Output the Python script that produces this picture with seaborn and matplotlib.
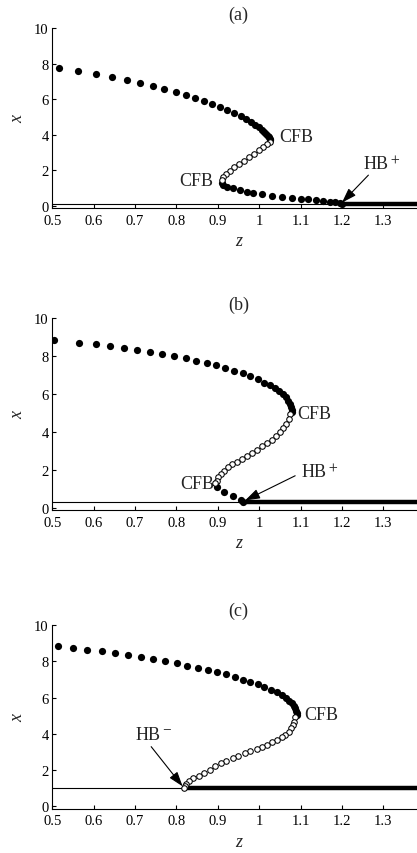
import numpy as np
import pandas as pd
import matplotlib
matplotlib.use("Agg")
import matplotlib.pyplot as plt
import seaborn as sns

# ---------------------------------------------------------------
# Bifurcation diagrams: steady-state x versus parameter z
# ---------------------------------------------------------------

# Panel (a)
a_stable_hi_z = [0.517, 0.563, 0.606, 0.644, 0.680, 0.713, 0.743, 0.771, 0.798, 0.822,
                 0.844, 0.866, 0.886, 0.905, 0.923, 0.940, 0.956, 0.968, 0.980, 0.990,
                 0.999, 1.006, 1.012, 1.017, 1.021, 1.024, 1.026, 1.027]
a_stable_hi_x = [7.78, 7.61, 7.43, 7.26, 7.09, 6.92, 6.75, 6.59, 6.40, 6.23,
                 6.06, 5.90, 5.71, 5.54, 5.37, 5.21, 5.04, 4.88, 4.71, 4.56,
                 4.42, 4.29, 4.17, 4.06, 3.96, 3.87, 3.79, 3.72]
a_unstable_z = [1.026, 1.019, 1.010, 1.000, 0.988, 0.976, 0.964, 0.952, 0.940, 0.929,
                0.920, 0.913, 0.909]
a_unstable_x = [3.62, 3.47, 3.30, 3.12, 2.93, 2.74, 2.55, 2.36, 2.17, 1.98,
                1.80, 1.62, 1.46]
a_stable_lo_z = [0.909, 0.913, 0.922, 0.937, 0.954, 0.970, 0.986, 1.008, 1.030, 1.054,
                 1.079, 1.100, 1.119, 1.137, 1.154, 1.170, 1.183, 1.195, 1.200]
a_stable_lo_x = [1.30, 1.17, 1.07, 1.00, 0.91, 0.80, 0.72, 0.65, 0.57, 0.49,
                 0.44, 0.40, 0.36, 0.33, 0.29, 0.24, 0.20, 0.14, 0.10]
a_eq_x = 0.1
a_hb_z = 1.2

# Panel (b)
b_stable_hi_z = [0.504, 0.564, 0.606, 0.640, 0.674, 0.705, 0.736, 0.766, 0.793, 0.822,
                 0.848, 0.874, 0.896, 0.918, 0.940, 0.960, 0.979, 0.996, 1.012, 1.026,
                 1.038, 1.049, 1.057, 1.064, 1.070, 1.074, 1.077, 1.079, 1.080]
b_stable_hi_x = [8.86, 8.72, 8.66, 8.54, 8.44, 8.33, 8.24, 8.14, 8.01, 7.91,
                 7.77, 7.64, 7.52, 7.40, 7.24, 7.10, 6.94, 6.78, 6.61, 6.47,
                 6.31, 6.15, 5.99, 5.83, 5.66, 5.48, 5.31, 5.17, 5.08]
b_unstable_z = [1.075, 1.071, 1.065, 1.058, 1.050, 1.041, 1.030, 1.018, 1.006, 0.994,
                0.982, 0.970, 0.958, 0.946, 0.935, 0.925, 0.915, 0.907, 0.901, 0.897,
                0.893]
b_unstable_x = [4.96, 4.69, 4.41, 4.20, 3.99, 3.78, 3.60, 3.43, 3.25, 3.06,
                2.90, 2.72, 2.58, 2.44, 2.30, 2.14, 1.97, 1.79, 1.62, 1.44,
                1.30]
b_stable_lo_z = [0.899, 0.915, 0.936, 0.956, 0.962]
b_stable_lo_x = [1.09, 0.83, 0.65, 0.40, 0.30]
b_eq_x = 0.3
b_hb_z = 0.962

# Panel (c)
c_stable_hi_z = [0.513, 0.550, 0.585, 0.619, 0.652, 0.682, 0.714, 0.744, 0.772, 0.801,
                 0.826, 0.851, 0.876, 0.899, 0.921, 0.942, 0.960, 0.978, 0.996, 1.012,
                 1.028, 1.042, 1.054, 1.065, 1.073, 1.079, 1.083, 1.087, 1.089, 1.091,
                 1.092]
c_stable_hi_x = [8.86, 8.75, 8.64, 8.55, 8.46, 8.35, 8.24, 8.13, 8.01, 7.89,
                 7.76, 7.65, 7.54, 7.40, 7.28, 7.15, 6.99, 6.88, 6.75, 6.60,
                 6.43, 6.29, 6.14, 5.97, 5.83, 5.70, 5.55, 5.40, 5.28, 5.14,
                 5.02]
c_unstable_z = [1.087, 1.084, 1.081, 1.076, 1.071, 1.062, 1.054, 1.042, 1.030, 1.018,
                1.006, 0.994, 0.979, 0.966, 0.950, 0.936, 0.921, 0.907, 0.893, 0.880,
                0.867, 0.854, 0.841, 0.830, 0.823, 0.820, 0.819]
c_unstable_x = [4.91, 4.67, 4.49, 4.30, 4.12, 3.93, 3.81, 3.66, 3.53, 3.38,
                3.25, 3.16, 3.03, 2.92, 2.79, 2.67, 2.52, 2.37, 2.21, 2.02,
                1.84, 1.69, 1.56, 1.40, 1.23, 1.10, 1.01]
c_eq_x = 1.0
c_hb_z = 0.819

z_ticks = [0.5, 0.6, 0.7, 0.8, 0.9, 1.0, 1.1, 1.2, 1.3]
z_tick_labels = ["0.5", "0.6", "0.7", "0.8", "0.9", "1", "1.1", "1.2", "1.3"]
x_ticks = [0, 2, 4, 6, 8, 10]
z_range = [0.5, 1.4]

sns.set_theme(style="ticks", rc={
    "xtick.direction": "in", "ytick.direction": "in",
    "xtick.major.size": 2.6, "ytick.major.size": 2.6,
    "xtick.major.width": 0.8, "ytick.major.width": 0.8,
    "axes.linewidth": 0.8, "axes.edgecolor": "black",
})
plt.rcParams["font.family"] = ["Liberation Serif", "DejaVu Serif"]
plt.rcParams["mathtext.fontset"] = "stix"

fig = plt.figure(figsize=(4.17, 8.54), dpi=100)

# axes boxes in figure fractions (the z-range continues slightly past the right edge)
boxes = [
    [0.1254, 0.7553, 0.893, 0.2104],
    [0.1254, 0.4013, 0.893, 0.2248],
    [0.1254, 0.0521, 0.893, 0.2149],
]

panels = [
    dict(title="(a)", hi=(a_stable_hi_z, a_stable_hi_x), un=(a_unstable_z, a_unstable_x),
         lo=(a_stable_lo_z, a_stable_lo_x), eq=a_eq_x, hb=a_hb_z),
    dict(title="(b)", hi=(b_stable_hi_z, b_stable_hi_x), un=(b_unstable_z, b_unstable_x),
         lo=(b_stable_lo_z, b_stable_lo_x), eq=b_eq_x, hb=b_hb_z),
    dict(title="(c)", hi=(c_stable_hi_z, c_stable_hi_x), un=(c_unstable_z, c_unstable_x),
         lo=None, eq=c_eq_x, hb=c_hb_z),
]

filled_kw = dict(color="black", edgecolor="black", linewidth=0, s=27, zorder=4, legend=False)
open_kw = dict(color="white", edgecolor="black", linewidth=0.75, s=16, zorder=5, legend=False)
ann_fs = 13
arrow_kw = dict(arrowstyle="-|>,head_length=0.75,head_width=0.25", color="black",
                lw=0.8, shrinkA=0, shrinkB=0)

axes = []
for box, p in zip(boxes, panels):
    ax = fig.add_axes(box)
    axes.append(ax)

    # equilibrium: thin over the whole range, thick where it is stable
    eq_all = pd.DataFrame({"z": z_range, "x": [p["eq"], p["eq"]]})
    eq_stable = pd.DataFrame({"z": [p["hb"], z_range[1]], "x": [p["eq"], p["eq"]]})
    sns.lineplot(data=eq_all, x="z", y="x", ax=ax, color="black", lw=0.8, zorder=2)
    sns.lineplot(data=eq_stable, x="z", y="x", ax=ax, color="black", lw=3.2, zorder=3)

    sns.scatterplot(x=p["hi"][0], y=p["hi"][1], ax=ax, **filled_kw)
    if p["lo"] is not None:
        sns.scatterplot(x=p["lo"][0], y=p["lo"][1], ax=ax, **filled_kw)
    sns.scatterplot(x=p["un"][0], y=p["un"][1], ax=ax, **open_kw)

    ax.set_xlim(*z_range)
    ax.set_ylim(-0.12, 10)
    ax.set_xticks(z_ticks)
    ax.set_xticklabels(z_tick_labels)
    ax.set_yticks(x_ticks)
    ax.tick_params(axis="both", labelsize=10.5, colors="black")
    ax.tick_params(axis="x", pad=4)
    ax.tick_params(axis="y", pad=2.5)
    ax.set_xlabel("z", fontsize=13, fontstyle="italic", labelpad=4)
    ax.set_ylabel("x", fontsize=13, fontstyle="italic", labelpad=6)
    ax.set_title(p["title"], fontsize=13, pad=7)
    for s in ("top", "right"):
        ax.spines[s].set_visible(False)

# labels of the bifurcation points
ax = axes[0]
ax.text(1.049, 3.88, "CFB", fontsize=ann_fs, ha="left", va="center")
ax.text(0.889, 1.45, "CFB", fontsize=ann_fs, ha="right", va="center")
ax.text(1.250, 2.35, r"HB$^+$", fontsize=ann_fs, ha="left", va="center")
ax.annotate("", xy=(1.200, 0.18), xytext=(1.264, 1.73), arrowprops=arrow_kw)

ax = axes[1]
ax.text(1.093, 4.99, "CFB", fontsize=ann_fs, ha="left", va="center")
ax.text(0.891, 1.30, "CFB", fontsize=ann_fs, ha="right", va="center")
ax.text(1.101, 1.91, r"HB$^+$", fontsize=ann_fs, ha="left", va="center")
ax.annotate("", xy=(0.966, 0.40), xytext=(1.087, 1.70), arrowprops=arrow_kw)

ax = axes[2]
ax.text(1.108, 5.05, "CFB", fontsize=ann_fs, ha="left", va="center")
ax.text(0.700, 3.95, r"HB$^-$", fontsize=ann_fs, ha="left", va="center")
ax.annotate("", xy=(0.815, 1.10), xytext=(0.739, 3.29), arrowprops=arrow_kw)

fig.savefig("out.png", dpi=100)
